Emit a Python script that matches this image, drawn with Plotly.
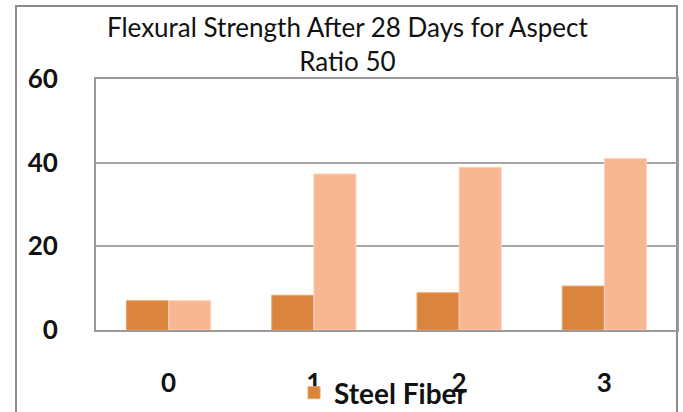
import plotly.graph_objects as go

categories = ["0", "1", "2", "3"]
steel_fiber = [7.0, 8.3, 8.9, 10.5]
second_series = [7.0, 37.3, 38.9, 41.0]
y_ticks = [0, 20, 40, 60]

title_text = "Flexural Strength After 28 Days for Aspect<br>Ratio 50"
dark = "#DB843D"
light = "#F8B692"
font_family = "Lato, 'Open Sans', sans-serif"

fig = go.Figure()
fig.add_trace(go.Bar(
    x=categories, y=steel_fiber, name="Steel Fiber",
    marker=dict(color=dark, line=dict(color="#E9A46A", width=1)),
))
fig.add_trace(go.Bar(
    x=categories, y=second_series, name="Series 2", showlegend=False,
    marker=dict(color=light, line=dict(color="#FCD3BC", width=1)),
))

W, H = 683, 412
L, R, T, B = 96, 6, 79, 82
pw, ph = W - L - R, H - T - B

def px_x(x):
    return (x - L) / pw

def px_y(y):
    return (H - B - y) / ph

fig.update_layout(
    width=W, height=H,
    margin=dict(l=L, r=R, t=T, b=B, pad=0, autoexpand=False),
    paper_bgcolor="white", plot_bgcolor="white",
    barmode="group", bargap=0.42, bargroupgap=0,
    font=dict(family=font_family, color="#111111"),
    xaxis=dict(
        showgrid=False, showline=True, linecolor="#9A9A9A", linewidth=2,
        ticks="", ticklabelstandoff=29,
        tickfont=dict(size=26, family=font_family, color="#111111", weight="bold"),
        mirror=True,
    ),
    yaxis=dict(
        range=[0, 60], tickvals=y_ticks, showgrid=True, gridcolor="#A6A6A6", gridwidth=2,
        showline=True, linecolor="#9A9A9A", linewidth=2, mirror=True,
        ticks="", ticklabelstandoff=31, zeroline=False,
        tickfont=dict(size=26, family=font_family, color="#111111", weight="bold"),
    ),
    showlegend=True,
    legend=dict(
        orientation="h", x=px_x(294), xanchor="left", y=px_y(393), yanchor="middle",
        font=dict(size=28, family=font_family, color="#111111", weight="bold"),
        bgcolor="rgba(0,0,0,0)",
    ),
)

fig.add_annotation(
    text=title_text, xref="paper", yref="paper",
    x=px_x(347), y=px_y(44), xanchor="center", yanchor="middle",
    showarrow=False, align="center",
    font=dict(size=26, family=font_family, color="#111111"),
)

fig.add_shape(
    type="rect", xref="paper", yref="paper",
    x0=px_x(16), x1=px_x(677), y0=px_y(430), y1=px_y(6),
    line=dict(color="#8C8C8C", width=2), fillcolor="rgba(0,0,0,0)", layer="below",
)

fig.write_html("out.html")
